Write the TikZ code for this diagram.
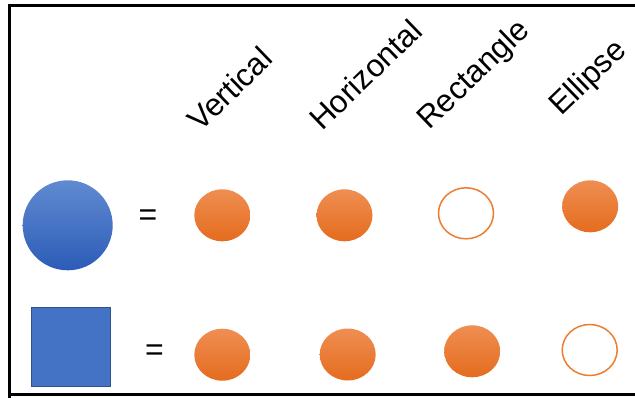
\documentclass[tikz,border=0pt]{standalone}
\usepackage{fontspec}
\setmainfont{Liberation Sans}
\usetikzlibrary{shapes.geometric}

\definecolor{blueTop}{RGB}{96,138,208}
\definecolor{blueBot}{RGB}{44,92,184}
\definecolor{blueFill}{RGB}{68,114,196}
\definecolor{blueEdge}{RGB}{47,82,143}
\definecolor{orangeTop}{RGB}{239,142,82}
\definecolor{orangeBot}{RGB}{228,108,30}
\definecolor{orangeLine}{RGB}{237,125,49}

\tikzset{
  frame/.style={line width=2.7pt, black},
  heading/.style={anchor=base west, rotate=44, inner sep=0pt,
                  font=\fontsize{31.5}{38}\selectfont},
  equals/.style={inner sep=0pt, font=\fontsize{32}{38}\selectfont},
  dotfull/.style={ellipse, minimum width=56pt, minimum height=52pt, inner sep=0pt,
                  top color=orangeTop, bottom color=orangeBot, draw=none},
  dotempty/.style={ellipse, minimum width=55pt, minimum height=51pt, inner sep=0pt,
                   draw=orangeLine, line width=1.5pt, fill=white},
  bigcircle/.style={circle, minimum size=90pt, inner sep=0pt,
                    top color=blueTop, bottom color=blueBot, draw=none},
  bigsquare/.style={rectangle, minimum width=79pt, minimum height=79pt, inner sep=0pt,
                    fill=blueFill, draw=blueEdge, line width=0.8pt}
}

\begin{document}
\begin{tikzpicture}[x=1pt, y=-1pt]
  \useasboundingbox (0,0) rectangle (635,397);

  % open frame: left, top and bottom edges
  \draw[frame] (9.5,400) -- (9.5,5.2) -- (640,5.2);
  \draw[frame] (9.5,394.5) -- (640,394.5);

  % column headings
  \node[heading] (hv) at (200,133) {Vertical};
  \node[heading] (hh) at (322,132) {Horizontal};
  \node[heading] (hr) at (429,131) {Rectangle};
  \node[heading] (he) at (561,117) {Ellipse};

  % row 1: circle
  \node[bigcircle] (circ) at (67.7,225.3) {};
  \node[equals] (eq1) at (148,218) {=};
  \node[dotfull]  (c1) at (222.3,215.3) {};
  \node[dotfull]  (c2) at (344.5,215.3) {};
  \node[dotempty] (c3) at (466,213.3) {};
  \node[dotfull]  (c4) at (590.2,206.3) {};

  % row 2: square
  \node[bigsquare] (sq) at (71.3,346.5) {};
  \node[equals] (eq2) at (154.5,353) {=};
  \node[dotfull]  (s1) at (222.3,354.7) {};
  \node[dotfull]  (s2) at (347.7,354.5) {};
  \node[dotfull]  (s3) at (472.2,351.3) {};
  \node[dotempty] (s4) at (589.7,350) {};
\end{tikzpicture}
\end{document}
